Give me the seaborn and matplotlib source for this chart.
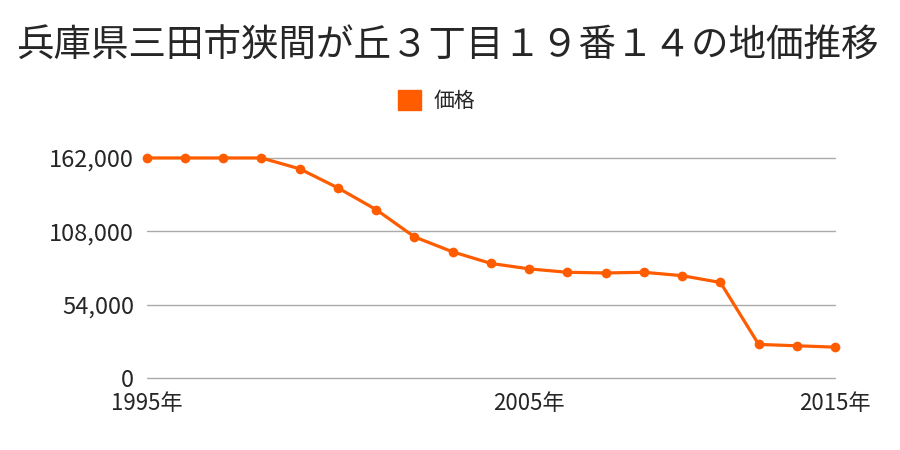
import matplotlib
matplotlib.use("Agg")
import matplotlib.pyplot as plt
from matplotlib.patches import Patch
import seaborn as sns
import pandas as pd

years = [1995, 1996, 1997, 1998, 1999, 2000, 2001, 2002, 2003, 2004,
         2005, 2006, 2007, 2008, 2009, 2011, 2012, 2014, 2015]
prices = [162000, 162000, 162000, 162000, 154000, 140000, 124000, 104000,
          93000, 84500, 80500, 78000, 77500, 78000, 75500, 70500,
          25000, 24000, 23000]
tick_years = [1995, 2005, 2015]
y_ticks = [0, 54000, 108000, 162000]

title = "兵庫県三田市狭間が丘３丁目１９番１４の地価推移"
series_name = "価格"
color = "#ff5c00"


def plot_price(df):

    sns.set_style("white")
    plt.rcParams["font.family"] = ["Noto Sans CJK JP", "DejaVu Sans"]

    fig = plt.figure(figsize=(9, 4.5), dpi=100)
    ax = fig.add_axes([0.163, 0.159, 0.765, 0.49])

    sns.lineplot(
        data=df,
        x="pos",
        y="price",
        color=color,
        linewidth=2.3,
        marker="o",
        markersize=7,
        markeredgewidth=0,
        clip_on=False,
        zorder=3,
        ax=ax
    )

    ax.set_xlim(0, len(df) - 1)
    ax.set_ylim(0, 162000)

    ax.set_yticks(y_ticks)
    ax.set_yticklabels([f"{v:,}" for v in y_ticks], fontsize=17)
    ax.yaxis.grid(True, color="#aaaaaa", linewidth=1)
    for gl in ax.get_ygridlines():
        gl.set_clip_on(False)
    ax.set_axisbelow(True)

    pos = [years.index(y) for y in tick_years]
    ax.set_xticks(pos)
    ax.set_xticklabels([f"{y}年" for y in tick_years], fontsize=16)
    ax.tick_params(axis="x", length=0, pad=10)
    ax.tick_params(axis="y", length=0, pad=9)

    ax.set_xlabel("")
    ax.set_ylabel("")
    sns.despine(ax=ax, left=True, bottom=True)

    fig.text(0.497, 0.9, title, ha="center", va="center", fontsize=27)

    fig.legend(
        handles=[Patch(color=color, label=series_name)],
        loc="center",
        bbox_to_anchor=(0.485, 0.775),
        frameon=False,
        fontsize=15,
        handlelength=1.1,
        handleheight=1.1,
        handletextpad=0.6
    )

    fig.savefig("out.png", dpi=100)
    plt.close(fig)


df = pd.DataFrame({"pos": range(len(years)), "year": years, "price": prices})
plot_price(df)
